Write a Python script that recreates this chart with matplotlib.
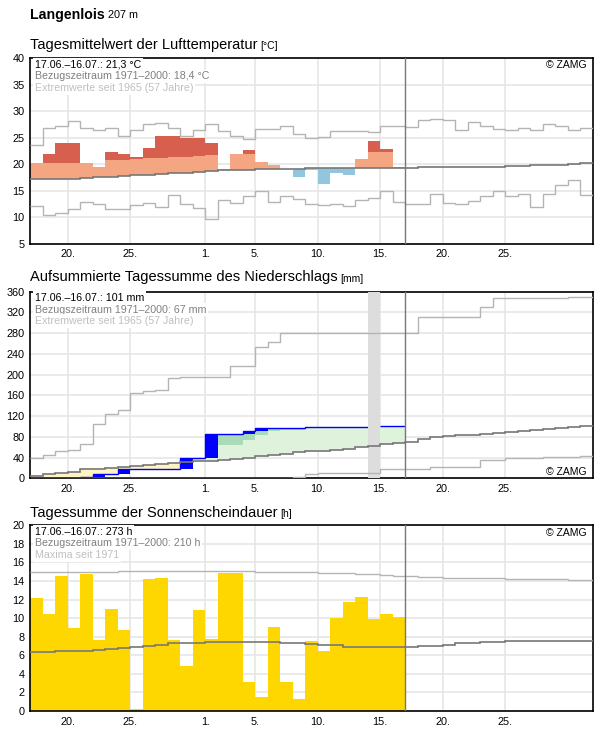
import numpy as np
import matplotlib
matplotlib.use("Agg")
import matplotlib.pyplot as plt

plt.rcParams['font.family'] = ['Liberation Sans', 'DejaVu Sans']

W, H = 596, 729

# x axis: days counted from 17.06. (0) to 01.08. (45)
tick_days = [3, 8, 14, 18, 23, 28, 33, 38]
tick_labels = ['20.', '25.', '1.', '5.', '10.', '15.', '20.', '25.']
n_days = 45
n_obs = 30

# --- temperature (°C) ---
temp_max = [23.6, 26.75, 27.2, 28.1, 26.9, 26.4, 26.75, 25.4, 26.4, 27.5, 27.7, 26.75, 25.3, 26.4, 27.5,
            26.2, 25.25, 24.75, 26.6, 26.6, 27.2, 25.6, 24.9, 25.1, 26.3, 26.3, 26.3, 26.0, 27.2, 27.2,
            27.0, 28.25, 28.6, 28.4, 26.4, 27.9, 27.3, 26.6, 26.4, 26.9, 26.4, 27.5, 27.3, 26.4, 26.75]
temp_min = [12.1, 10.4, 10.8, 11.6, 12.9, 12.5, 11.6, 11.6, 12.3, 12.7, 11.9, 14.2, 12.5, 11.75, 9.7,
            13.25, 12.7, 14.0, 14.9, 12.9, 14.0, 13.4, 12.4, 12.3, 12.5, 12.1, 13.3, 13.6, 14.9, 12.9,
            12.5, 12.5, 14.4, 12.7, 12.5, 13.1, 14.0, 14.9, 14.0, 14.4, 11.9, 14.4, 16.1, 17.0, 14.2]
temp_mean = [17.2, 17.2, 17.2, 17.2, 17.4, 17.5, 17.6, 17.75, 17.9, 18.0, 18.1, 18.25, 18.4, 18.6, 18.75,
             18.8, 18.85, 18.9, 19.0, 19.0, 19.0, 19.1, 19.2, 19.2, 19.2, 19.2, 19.2, 19.2, 19.2, 19.2,
             19.25, 19.4, 19.4, 19.4, 19.4, 19.4, 19.4, 19.4, 19.6, 19.6, 19.8, 19.8, 19.8, 20.0, 20.2]
temp_upper = [20.3, 20.3, 20.3, 20.3, 20.3, 20.4, 20.7, 20.8, 20.9, 21.1, 21.25, 21.3, 21.4, 21.6, 21.8,
              21.9, 22.0, 22.0, 22.0, 22.0, 22.1, 22.1, 22.1, 22.2, 22.2, 22.2, 22.2, 22.2, 22.2, 22.2]
temp_obs = [20.3, 22.0, 23.9, 23.9, 20.3, 19.5, 22.3, 21.9, 21.4, 23.1, 25.3, 25.3, 25.0, 25.0, 24.0,
            19.1, 22.0, 22.7, 20.4, 19.9, 19.0, 17.5, 18.8, 16.2, 18.25, 17.9, 20.9, 24.4, 22.9, 19.5]

# --- precipitation, cumulative (mm) ---
prec_max = [40, 45, 52, 54, 67, 105, 125, 131, 164, 169, 171, 193, 195, 195, 195, 195, 217, 217, 254, 262,
            280, 280, 280, 280, 280, 280, 280, 280, 281, 281, 281, 311, 311, 311, 311, 311, 331, 347, 347, 347,
            347, 348, 348, 350, 350]
prec_min = [0] * 21 + [2.6, 8, 11, 11, 11, 11, 11, 17.3, 17.3, 17.3, 17.3, 22.4, 22.4, 22.4, 22.4, 36, 36,
                       38.4, 38.4, 38.4, 41, 41, 41, 42.2]
prec_mean = [3.5, 7.4, 9.3, 11.2, 17, 18.9, 20.8, 22.7, 24.6, 26.6, 28.5, 30.4, 32.3, 33.2, 34.2, 36.2, 38, 40,
             43.2, 45.1, 47, 50.2, 52.2, 53.4, 55.4, 57.3, 59.8, 63, 66.9, 68.2, 69.8, 76, 80, 81.3, 83.8, 83.8,
             86.4, 87.7, 89.6, 91.5, 93.4, 95.4, 97.3, 98.6, 100.5]
prec_obs = [0.3, 0.5, 1, 1.5, 2.2, 7.4, 7.4, 18.2, 18.9, 18.9, 18.9, 18.9, 38.7, 39, 86, 86, 86, 92, 97.6, 97.6,
            97.6, 97.6, 99.5, 99.5, 99.5, 99.5, 99.5, np.nan, 101, 101]
prec_dark_days = [15, 16, 17, 18, 19, 20, 21]
prec_dark_bottom = [64.3, 64.3, 73.3, 82.9, 91, 93, 93]
missing_day = 27

# --- sunshine (h) ---
sun_max = [14.97] * 7 + [15.08] * 11 + [14.97] * 5 + [14.86] * 3 + [14.72] * 2 + [14.61] + [14.5] * 2 \
          + [14.4] * 2 + [14.29] * 5 + [14.2] * 5 + [14.07] * 2
sun_mean = [6.37, 6.37, 6.47, 6.47, 6.47, 6.58, 6.7, 6.8, 6.9, 7.0, 7.1, 7.27, 7.27, 7.27, 7.41, 7.41, 7.41,
            7.41, 7.41, 7.41, 7.3, 7.3, 7.2, 7.1, 7.1, 6.94, 6.94, 6.94, 6.94, 6.94, 6.94, 7.05, 7.05, 7.16,
            7.27, 7.27, 7.38, 7.45, 7.52, 7.52, 7.52, 7.52, 7.52, 7.52, 7.52]
sun_obs = [12.15, 10.5, 14.5, 8.9, 14.75, 7.7, 10.96, 8.7, 0.2, 14.2, 14.3, 7.6, 4.9, 10.85, 7.8,
           14.85, 14.85, 3.15, 1.5, 9.0, 3.15, 1.3, 7.56, 6.44, 10.0, 11.7, 12.3, 9.9, 10.5, 10.1]

GRID = '#e6e6e6'
EXT = '#b4b4b4'
MEAN = '#777777'

fig = plt.figure(figsize=(W / 100, H / 100), dpi=100)
renderer = fig.canvas.get_renderer()


def fpos(x, y):
    return x / W, 1 - y / H


def add_ax(left, top, right, bottom):
    return fig.add_axes([left / W, 1 - bottom / H, (right - left) / W, (bottom - top) / H])


def style(ax, y0, y1, step):
    ax.set_xlim(0, n_days)
    ax.set_ylim(y0, y1)
    yt = np.arange(y0, y1 + 0.01, step)
    ax.set_yticks(yt)
    ax.set_yticklabels([str(int(v)) for v in yt])
    ax.set_xticks(tick_days)
    ax.set_xticklabels(tick_labels)
    ax.tick_params(length=0, labelsize=7.8, pad=4)
    ax.grid(True, color=GRID, lw=1.2)
    ax.set_axisbelow(True)
    for s in ax.spines.values():
        s.set_linewidth(1.2)
    ax.axvline(n_obs, color=MEAN, lw=1, zorder=6)


def step(ax, vals, color, lw=1.0, z=4, n=None):
    e = np.arange(len(vals) + 1)
    ax.stairs(vals, e, baseline=None, color=color, lw=lw, zorder=z)


def title(y, main, unit, bold=False, size=10.5, usize=7.5):
    x, yy = fpos(30, y)
    t = fig.text(x, yy, main, fontsize=size, fontweight='bold' if bold else 'normal', va='baseline')
    bb = t.get_window_extent(renderer)
    fig.text(bb.x1 / W + 3 / W, yy, unit, fontsize=usize, va='baseline')


def info(top, lines):
    for i, (txt, col) in enumerate(lines):
        x, y = fpos(35, top + 9.5 + i * 11.5)
        fig.text(x, y, txt, color=col, fontsize=7.7, va='baseline', zorder=10,
                 bbox=dict(facecolor='white', edgecolor='none', pad=1.2))


def zamg(y):
    x, yy = fpos(587, y)
    fig.text(x, yy, '© ZAMG', fontsize=7.5, ha='right', va='baseline')


x = np.arange(n_obs)

# ---------------- temperature ----------------
ax1 = add_ax(30.3, 58.3, 592.7, 243.5)
style(ax1, 5, 40, 5)
tm = np.array(temp_mean[:n_obs])
to = np.array(temp_obs)
tu = np.array(temp_upper)
warm = to >= tm
ax1.bar(x[warm], (np.minimum(to, tu) - tm)[warm], bottom=tm[warm], width=1, align='edge',
        color='#f4a582', zorder=2)
hot = to > tu
ax1.bar(x[hot], (to - tu)[hot], bottom=tu[hot], width=1, align='edge', color='#d6604d', zorder=2)
cold = to < tm
ax1.bar(x[cold], (tm - to)[cold], bottom=to[cold], width=1, align='edge', color='#92c5de', zorder=2)
step(ax1, temp_max, EXT)
step(ax1, temp_min, EXT)
step(ax1, temp_mean, MEAN, lw=1.2, z=5)

# ---------------- precipitation ----------------
ax2 = add_ax(30.3, 291.7, 592.7, 478.3)
style(ax2, 0, 360, 40)
pm = np.array(prec_mean[:n_obs])
po = np.array(prec_obs, dtype=float)
dry = po < pm
ax2.bar(x[dry], (pm - po)[dry], bottom=po[dry], width=1, align='edge', color='#fff4bf', zorder=2)
wet = po > pm
ax2.bar(x[wet], (po - pm)[wet], bottom=pm[wet], width=1, align='edge', color='#dff2db', zorder=2)
dd = np.array(prec_dark_days)
ax2.bar(dd, po[dd] - np.array(prec_dark_bottom), bottom=prec_dark_bottom, width=1, align='edge',
        color='#a9dcb6', zorder=2)
prev = np.concatenate([[0.0], po[:-1]])
inc = po - prev
rain = np.nan_to_num(inc) > 0.3
ax2.bar(x[rain], inc[rain], bottom=prev[rain], width=1, align='edge', color='#0000ff', zorder=3)
step(ax2, po, '#0000ff', lw=1.0, z=3)
ax2.axvspan(missing_day, missing_day + 1, color='#dddddd', lw=0, zorder=3.5)
step(ax2, prec_max, EXT)
step(ax2, prec_min, EXT)
step(ax2, prec_mean, MEAN, lw=1.2, z=5)

# ---------------- sunshine ----------------
ax3 = add_ax(30.3, 525.3, 592.7, 711)
style(ax3, 0, 20, 2)
ax3.bar(x, sun_obs, width=1, align='edge', color='#ffd700', zorder=2)
step(ax3, sun_max, EXT)
step(ax3, sun_mean, MEAN, lw=1.2, z=5)

# ---------------- texts ----------------
title(18.5, 'Langenlois', '207 m', bold=True, size=10.2, usize=7.8)
title(48.7, 'Tagesmittelwert der Lufttemperatur', '[°C]')
title(281.5, 'Aufsummierte Tagessumme des Niederschlags', '[mm]')
title(516.7, 'Tagessumme der Sonnenscheindauer', '[h]')

info(58.3, [('17.06.–16.07.: 21,3 °C', 'black'),
            ('Bezugszeitraum 1971–2000: 18,4 °C', '#808080'),
            ('Extremwerte seit 1965 (57 Jahre)', '#c0c0c0')])
info(291.7, [('17.06.–16.07.: 101 mm', 'black'),
             ('Bezugszeitraum 1971–2000: 67 mm', '#808080'),
             ('Extremwerte seit 1965 (57 Jahre)', '#c0c0c0')])
info(525.3, [('17.06.–16.07.: 273 h', 'black'),
             ('Bezugszeitraum 1971–2000: 210 h', '#808080'),
             ('Maxima seit 1971', '#c0c0c0')])
zamg(68.5)
zamg(475)
zamg(535.5)

fig.savefig('out.png', dpi=100)
